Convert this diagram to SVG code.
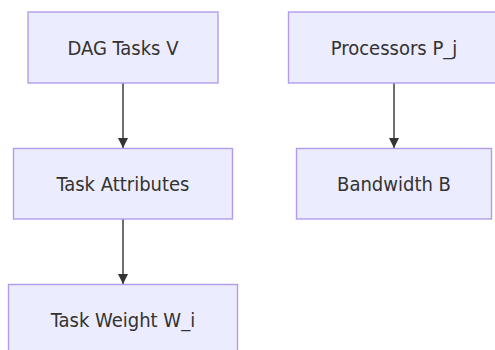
<svg xmlns="http://www.w3.org/2000/svg" width="495" height="350" viewBox="0 0 495 350">
  <style>
    .node rect { fill: #ECECFF; stroke: #B39DEB; stroke-width: 1.4; }
    .node text { font-family: "DejaVu Sans Condensed", "DejaVu Sans", sans-serif; font-stretch: condensed; font-size: 20px; fill: #333333; text-anchor: middle; }
    .edge { stroke: #555555; stroke-width: 1.7; fill: none; }
  </style>
  <defs>
    <marker id="arrow" viewBox="0 0 10 10" refX="10" refY="5" markerWidth="10" markerHeight="10" markerUnits="userSpaceOnUse" orient="auto">
      <path d="M0,0 L10,5 L0,10 z" fill="#333333"/>
    </marker>
  </defs>
  <rect width="495" height="350" fill="#FFFFFF"/>
  <g id="connectors">
    <line class="edge" x1="123" y1="83" x2="123" y2="148" marker-end="url(#arrow)"/>
    <line class="edge" x1="123" y1="219" x2="123" y2="284" marker-end="url(#arrow)"/>
    <line class="edge" x1="394" y1="83" x2="394" y2="148" marker-end="url(#arrow)"/>
  </g>
  <g id="node-dag" class="node">
    <rect x="28" y="12" width="190" height="71"/>
    <text x="123" y="55">DAG Tasks V</text>
  </g>
  <g id="node-attributes" class="node">
    <rect x="13.5" y="148.5" width="219" height="70.5"/>
    <text x="123" y="191">Task Attributes</text>
  </g>
  <g id="node-weight" class="node">
    <rect x="8.5" y="284.5" width="229" height="71"/>
    <text x="123" y="327">Task Weight W_i</text>
  </g>
  <g id="node-processors" class="node">
    <rect x="288.5" y="12" width="211" height="71"/>
    <text x="394" y="55">Processors P_j</text>
  </g>
  <g id="node-bandwidth" class="node">
    <rect x="296.5" y="148.5" width="195" height="70.5"/>
    <text x="394" y="191">Bandwidth B</text>
  </g>
</svg>
